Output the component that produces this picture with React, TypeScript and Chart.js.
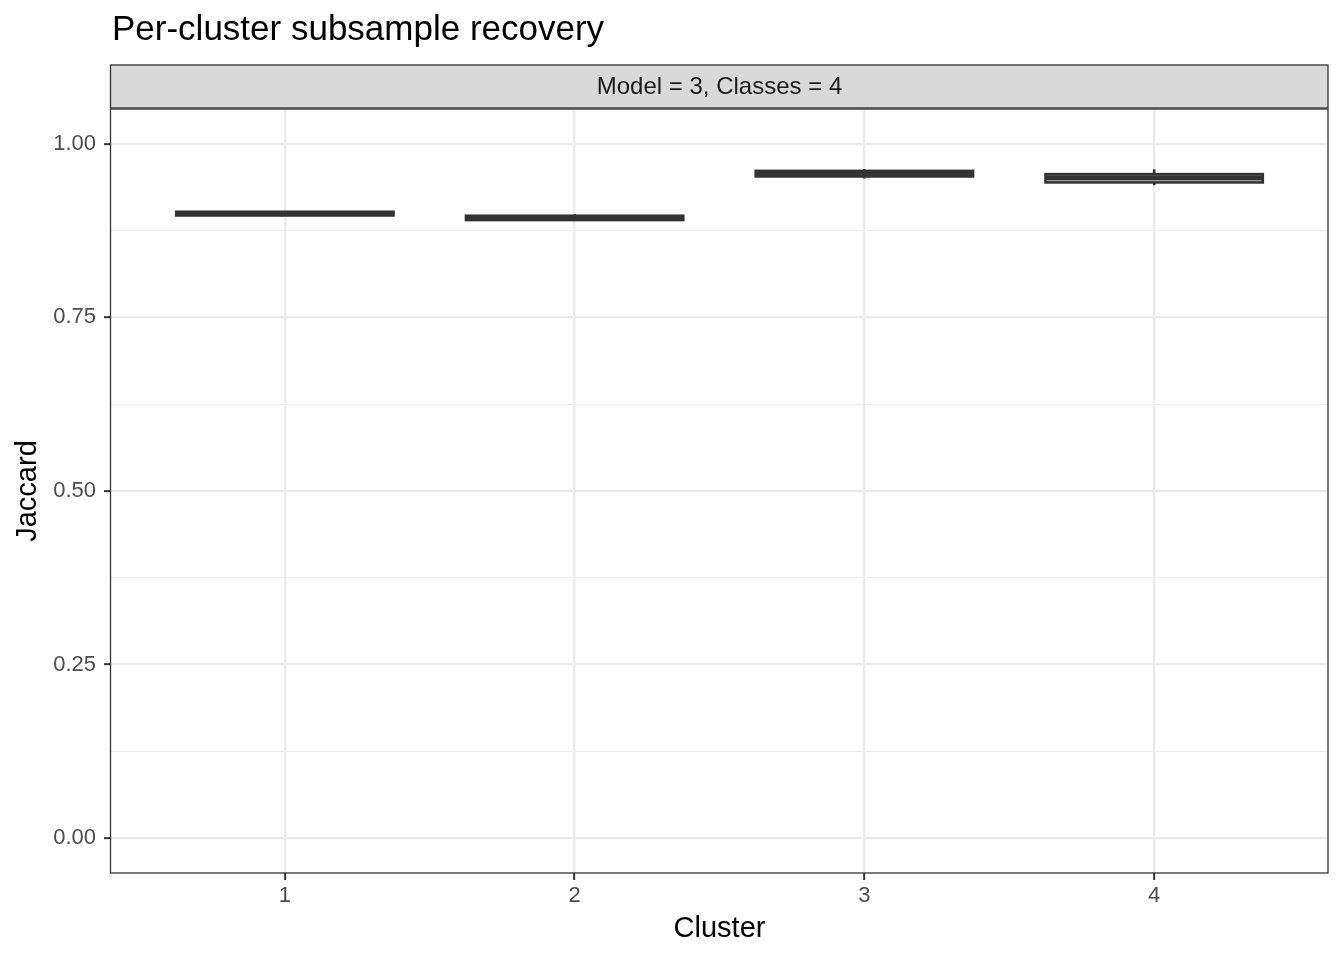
import React, { useEffect, useRef } from 'react';
import { Chart, registerables } from 'chart.js';

Chart.register(...registerables);

const clusters = ['1', '2', '3', '4'];
const whiskerLow = [0.8968, 0.8901, 0.9501, 0.9401];
const q1 = [0.8968, 0.8901, 0.9529, 0.9443];
const median = [0.8994, 0.8931, 0.9569, 0.9508];
const q3 = [0.902, 0.8963, 0.9609, 0.9562];
const whiskerHigh = [0.902, 0.8985, 0.9636, 0.9634];
const yMajorTicks = [0, 0.25, 0.5, 0.75, 1];
const yMinorTicks = [0.125, 0.375, 0.625, 0.875];
const titleText = 'Per-cluster subsample recovery';
const stripText = 'Model = 3, Classes = 4';
const xTitle = 'Cluster';
const yTitle = 'Jaccard';

const FONT = '"Liberation Sans", Arial, Helvetica, sans-serif';
const DARK = '#333333';
const BOX_LW = 2.6;
const MEDIAN_LW = 5.2;
const BOX_WIDTH = 0.75;

const isMajor = (v: number) => yMajorTicks.some((m) => Math.abs(m - v) < 1e-9);

const boxPlugin = {
  id: 'boxPlugin',
  beforeDraw(chart: any) {
    const ctx = chart.ctx;
    ctx.save();
    ctx.fillStyle = '#ffffff';
    ctx.fillRect(0, 0, chart.width, chart.height);
    ctx.restore();
  },
  afterDatasetsDraw(chart: any) {
    const ctx = chart.ctx;
    const xs = chart.scales.x;
    const ys = chart.scales.y;
    ctx.save();
    ctx.strokeStyle = DARK;
    ctx.lineCap = 'butt';
    clusters.forEach((_, i) => {
      const xc = xs.getPixelForValue(i + 1);
      const xl = xs.getPixelForValue(i + 1 - BOX_WIDTH / 2);
      const xr = xs.getPixelForValue(i + 1 + BOX_WIDTH / 2);
      const yq1 = ys.getPixelForValue(q1[i]);
      const yq3 = ys.getPixelForValue(q3[i]);
      const ymed = ys.getPixelForValue(median[i]);
      const ywl = ys.getPixelForValue(whiskerLow[i]);
      const ywh = ys.getPixelForValue(whiskerHigh[i]);
      // whiskers
      ctx.lineWidth = BOX_LW;
      ctx.beginPath();
      ctx.moveTo(xc, yq3);
      ctx.lineTo(xc, ywh);
      ctx.moveTo(xc, yq1);
      ctx.lineTo(xc, ywl);
      ctx.stroke();
      // box
      ctx.fillStyle = '#ffffff';
      ctx.fillRect(xl, yq3, xr - xl, yq1 - yq3);
      ctx.strokeRect(xl, yq3, xr - xl, yq1 - yq3);
      // median
      ctx.lineWidth = MEDIAN_LW;
      ctx.beginPath();
      ctx.moveTo(xl, ymed);
      ctx.lineTo(xr, ymed);
      ctx.stroke();
    });
    ctx.restore();
  },
  afterDraw(chart: any) {
    const ctx = chart.ctx;
    const a = chart.chartArea;
    ctx.save();
    // panel border
    ctx.strokeStyle = DARK;
    ctx.lineWidth = 1.3;
    ctx.strokeRect(a.left - 0.5, a.top, a.right - a.left + 0.5, a.bottom - a.top);
    // strip
    const sTop = 65;
    const sBottom = a.top - 1;
    ctx.fillStyle = '#d9d9d9';
    ctx.fillRect(a.left - 0.5, sTop, a.right - a.left + 0.5, sBottom - sTop);
    ctx.strokeRect(a.left - 0.5, sTop, a.right - a.left + 0.5, sBottom - sTop);
    ctx.fillStyle = '#1a1a1a';
    ctx.font = `24px ${FONT}`;
    ctx.textAlign = 'center';
    ctx.textBaseline = 'middle';
    ctx.fillText(stripText, (a.left + a.right) / 2, (sTop + sBottom) / 2 + 1);
    // title
    ctx.fillStyle = '#000000';
    ctx.font = `35px ${FONT}`;
    ctx.textAlign = 'left';
    ctx.textBaseline = 'alphabetic';
    ctx.fillText(titleText, a.left + 1, 40);
    // x title
    ctx.font = `29px ${FONT}`;
    ctx.textAlign = 'center';
    ctx.fillText(xTitle, (a.left + a.right) / 2, 937);
    // y title
    ctx.translate(36, (a.top + a.bottom) / 2);
    ctx.rotate(-Math.PI / 2);
    ctx.fillText(yTitle, 0, 0);
    ctx.restore();
  },
};

export default function App() {
  const canvasRef = useRef<HTMLCanvasElement | null>(null);

  useEffect(() => {
    const canvas = canvasRef.current;
    if (!canvas) return;
    const chart = new Chart(canvas, {
      type: 'scatter',
      data: {
        datasets: [
          {
            label: 'median',
            data: clusters.map((_, i) => ({ x: i + 1, y: median[i] })),
            pointRadius: 0,
            pointHoverRadius: 0,
            showLine: false,
          },
        ],
      },
      options: {
        responsive: false,
        animation: false,
        devicePixelRatio: 1,
        layout: { padding: { left: 0, top: 109, right: 16, bottom: 0 } },
        plugins: {
          legend: { display: false },
          tooltip: { enabled: false },
          title: { display: false },
        },
        scales: {
          x: {
            type: 'linear',
            min: 0.4,
            max: 4.6,
            afterBuildTicks: (scale: any) => {
              scale.ticks = clusters.map((_, i) => ({ value: i + 1 }));
            },
            afterFit: (scale: any) => {
              scale.height = 87;
            },
            border: { display: false },
            grid: {
              color: '#ebebeb',
              lineWidth: 2.3,
              drawTicks: true,
              tickLength: 7,
              tickColor: DARK,
              tickWidth: 2,
            },
            ticks: {
              padding: 3,
              color: '#4d4d4d',
              font: { family: FONT, size: 22 },
              maxRotation: 0,
              autoSkip: false,
              callback: (v: any) => clusters[Math.round(Number(v)) - 1] ?? '',
            },
          },
          y: {
            type: 'linear',
            min: -0.05,
            max: 1.05,
            afterBuildTicks: (scale: any) => {
              scale.ticks = [...yMajorTicks, ...yMinorTicks]
                .sort((p, q) => p - q)
                .map((v) => ({ value: v }));
            },
            afterFit: (scale: any) => {
              scale.width = 111;
            },
            border: { display: false },
            grid: {
              color: '#ebebeb',
              lineWidth: (c: any) => (c.tick && isMajor(c.tick.value) ? 2.3 : 1.1),
              drawTicks: true,
              tickLength: 7,
              tickColor: (c: any) => (c.tick && isMajor(c.tick.value) ? DARK : 'rgba(0,0,0,0)'),
              tickWidth: 2,
            },
            ticks: {
              padding: 8,
              color: '#4d4d4d',
              font: { family: FONT, size: 22 },
              autoSkip: false,
              callback: (v: any) => (isMajor(Number(v)) ? Number(v).toFixed(2) : ''),
            },
          },
        },
      },
      plugins: [boxPlugin],
    } as any);
    return () => {
      chart.destroy();
    };
  }, []);

  return (
    <div style={{ position: 'absolute', left: 0, top: 0, width: 1344, height: 960, background: '#fff' }}>
      <canvas ref={canvasRef} width={1344} height={960} style={{ width: 1344, height: 960, display: 'block' }} />
    </div>
  );
}
